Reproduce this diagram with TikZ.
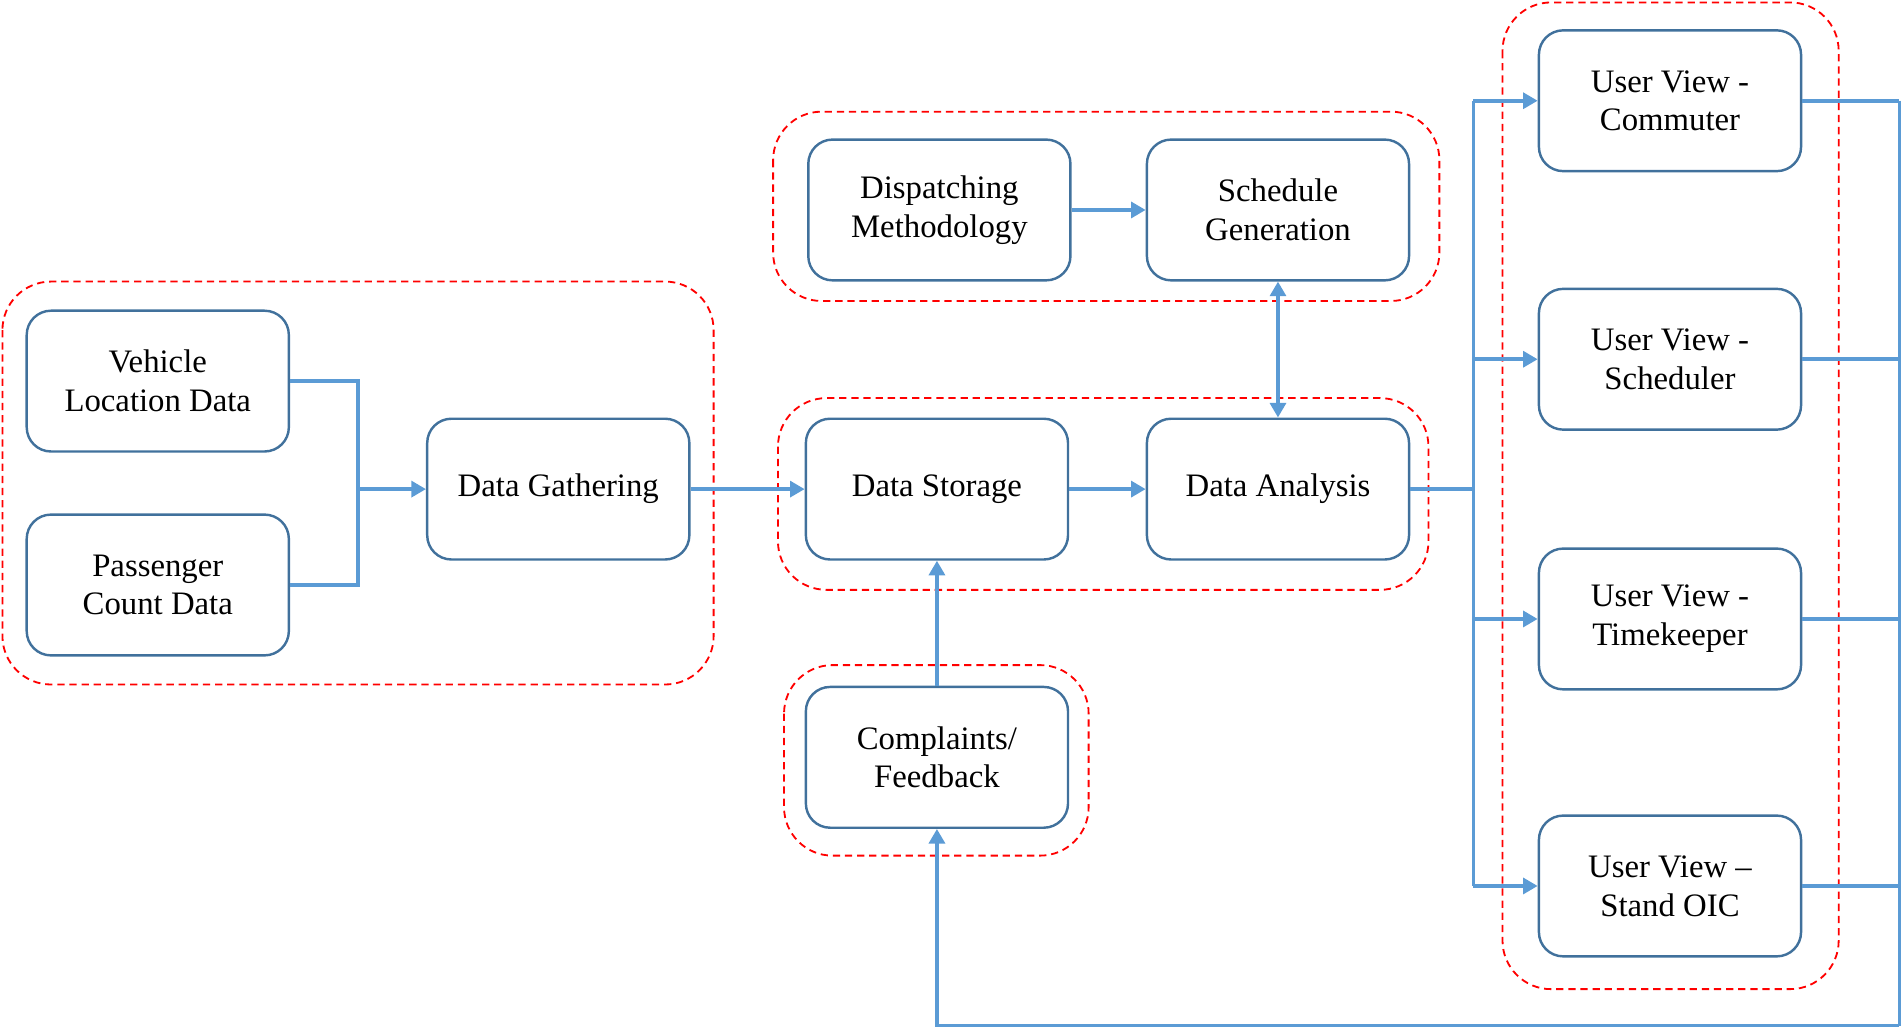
\documentclass[tikz,border=0pt]{standalone}
\usepackage{fontspec}
\setmainfont{Liberation Serif}
\usetikzlibrary{arrows.meta}
\definecolor{boxblue}{HTML}{41719C}
\definecolor{linkblue}{HTML}{5B9BD5}
\begin{document}
\begin{tikzpicture}[x=0.5pt,y=-0.5pt,
 box/.style={draw=boxblue,line width=1pt,rounded corners=10pt,minimum width=108pt,minimum height=58pt,align=center,inner sep=0pt,font=\fontsize{13.5}{16}\selectfont,text=black},
 link/.style={draw=linkblue,line width=1.5pt},
 tip/.style={-{Triangle[length=6pt,width=6.5pt]}},
 arr/.style={link,tip},
 grp/.style={draw=red,dash pattern=on 3pt off 2pt,line width=0.75pt,rounded corners=20pt}]
\useasboundingbox (0,0) rectangle (1568,847);
% groups
\draw[grp] (2,232) rectangle (588,564);
\draw[grp] (637,92) rectangle (1186,248);
\draw[grp] (641,328) rectangle (1177,486);
\draw[grp] (646,548) rectangle (897,705);
\draw[grp] (1238,2) rectangle (1515,815);
% nodes
\node[box] (veh) at (130,314) {Vehicle\\Location Data};
\node[box] (pas) at (130,482) {Passenger\\Count Data};
\node[box] (gat) at (460,403) {Data Gathering};
\node[box] (sto) at (772,403) {Data Storage};
\node[box] (ana) at (1053,403) {Data Analysis};
\node[box] (dis) at (774,173) {Dispatching\\Methodology};
\node[box] (sch) at (1053,173) {Schedule\\Generation};
\node[box] (com) at (772,624) {Complaints/\\Feedback};
\node[box] (u1) at (1376,83) {User View -\\Commuter};
\node[box] (u2) at (1376,296) {User View -\\Scheduler};
\node[box] (u3) at (1376,510) {User View -\\Timekeeper};
\node[box] (u4) at (1376,730) {User View --\\Stand OIC};
% connectors
\coordinate (j1) at (295,403);
\draw[link] (veh.east) -| (j1) |- (pas.east);
\draw[arr] (j1) -- (gat.west);
\draw[arr] (gat) -- (sto);
\draw[arr] (sto) -- (ana);
\draw[arr] (dis) -- (sch);
\draw[link,{Triangle[length=6pt,width=6.5pt]}-{Triangle[length=6pt,width=6.5pt]}] (sch) -- (ana);
\draw[arr] (com) -- (sto);
\coordinate (j2) at (1214,403);
\draw[link] (ana.east) -- (j2);
\draw[link] (u1.west -| j2) -- (u4.west -| j2);
\foreach \u in {u1,u2,u3,u4}{\draw[arr] (\u.west -| j2) -- (\u.west);}
\coordinate (r) at (1565,845);
\foreach \u in {u1,u2,u3,u4}{\draw[link] (\u.east) -- (\u.east -| r);}
\draw[link] (u1.east -| r) -- (r);
\draw[arr] (r) -| (com.south);
\end{tikzpicture}
\end{document}
